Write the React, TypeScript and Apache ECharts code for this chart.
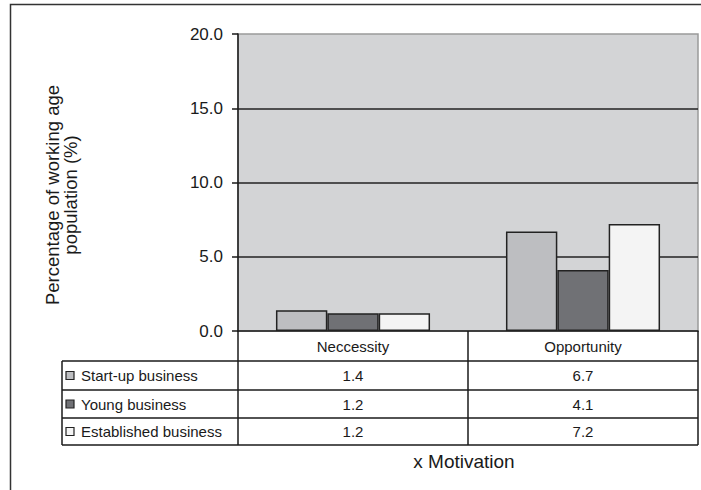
import React, { useEffect, useRef } from "react";
import * as echarts from "echarts";

const categories = ["Neccessity", "Opportunity"];
const seriesNames = ["Start-up business", "Young business", "Established business"];
const startUpValues = [1.4, 6.7];
const youngValues = [1.2, 4.1];
const establishedValues = [1.2, 7.2];
const seriesValues = [startUpValues, youngValues, establishedValues];
const seriesColors = ["#bdbec1", "#707175", "#f4f4f4"];
const yMin = 0;
const yMax = 20;
const yInterval = 5;
const yAxisTitleLines = ["Percentage of working age", "population (%)"];
const xAxisTitle = "x Motivation";

const FONT = "'Liberation Sans', Arial, Helvetica, sans-serif";
const INK = "#1a1a1a";

export default function App() {
  const ref = useRef<HTMLDivElement>(null);

  useEffect(() => {
    if (!ref.current) return;
    const chart = echarts.init(ref.current, null, { renderer: "svg" });

    const gridLeft = 238;
    const gridRight = 698;
    const gridTop = 34;
    const gridBottom = 331;
    const rowLines = [361, 390, 418, 445];
    const tableLeft = 62;

    const option: any = {
      animation: false,
      backgroundColor: "#ffffff",
      textStyle: { fontFamily: FONT },
      grid: {
        left: gridLeft,
        right: 701 - gridRight,
        top: gridTop,
        bottom: 490 - gridBottom,
        show: true,
        backgroundColor: "#d3d4d6",
        borderColor: "#9a9a9a",
        borderWidth: 1.5,
        containLabel: false,
      },
      xAxis: {
        type: "category",
        data: categories,
        boundaryGap: true,
        axisLine: { show: true, lineStyle: { color: INK, width: 1.5 } },
        axisTick: {
          show: true,
          inside: false,
          length: rowLines[rowLines.length - 1] - gridBottom,
          interval: 0,
          lineStyle: { color: INK, width: 1.5 },
        },
        axisLabel: {
          show: true,
          interval: 0,
          margin: 15,
          verticalAlign: "middle",
          fontSize: 15,
          color: INK,
          fontFamily: FONT,
        },
        splitLine: { show: false },
      },
      yAxis: {
        type: "value",
        min: yMin,
        max: yMax,
        interval: yInterval,
        axisLine: { show: true, lineStyle: { color: INK, width: 1.5 } },
        axisTick: { show: true, inside: false, length: 6, lineStyle: { color: INK, width: 1.5 } },
        axisLabel: {
          margin: 15,
          fontSize: 17,
          color: INK,
          fontFamily: FONT,
          formatter: (v: number) => v.toFixed(1),
        },
        splitLine: {
          show: true,
          showMinLine: false,
          showMaxLine: false,
          lineStyle: { color: "#222222", width: 1.5 },
        },
      },
      series: seriesNames.map((name, i) => ({
        name,
        type: "bar",
        data: seriesValues[i],
        barGap: "0%",
        barCategoryGap: "33%",
        itemStyle: { color: seriesColors[i], borderColor: "#222222", borderWidth: 1.5 },
      })),
    };

    chart.setOption(option);

    const colX = categories.map((c) => chart.convertToPixel({ xAxisIndex: 0 }, c) as number);

    const elements: any[] = [];

    // outer frame
    elements.push({
      type: "polyline",
      shape: { points: [[10.5, 490], [10.5, 4.5], [701, 4.5]] },
      style: { stroke: "#333333", lineWidth: 1.5, fill: null },
      z: 10,
    });

    // table horizontal lines
    rowLines.forEach((y) => {
      elements.push({
        type: "line",
        shape: { x1: tableLeft, y1: y, x2: gridRight, y2: y },
        style: { stroke: INK, lineWidth: 1.5 },
        z: 10,
      });
    });
    // table left border
    elements.push({
      type: "line",
      shape: { x1: tableLeft, y1: rowLines[0], x2: tableLeft, y2: rowLines[rowLines.length - 1] },
      style: { stroke: INK, lineWidth: 1.5 },
      z: 10,
    });

    seriesNames.forEach((name, i) => {
      const yc = (rowLines[i] + rowLines[i + 1]) / 2;
      elements.push({
        type: "rect",
        shape: { x: tableLeft + 4, y: yc - 4, width: 8, height: 8 },
        style: { fill: seriesColors[i], stroke: "#222222", lineWidth: 1.2 },
        z: 11,
      });
      elements.push({
        type: "text",
        x: tableLeft + 19,
        y: yc,
        style: {
          text: name,
          fontSize: 15,
          fontFamily: FONT,
          fill: INK,
          align: "left",
          verticalAlign: "middle",
        },
        z: 11,
      });
      seriesValues[i].forEach((v, j) => {
        elements.push({
          type: "text",
          x: colX[j],
          y: yc,
          style: {
            text: v.toFixed(1),
            fontSize: 15,
            fontFamily: FONT,
            fill: INK,
            align: "center",
            verticalAlign: "middle",
          },
          z: 11,
        });
      });
    });

    // y axis title (two lines)
    yAxisTitleLines.forEach((line, i) => {
      elements.push({
        type: "text",
        x: 52 + i * 18,
        y: 195,
        rotation: Math.PI / 2,
        style: {
          text: line,
          fontSize: 18.5,
          fontFamily: FONT,
          fill: INK,
          align: "center",
          verticalAlign: "middle",
        },
        z: 11,
      });
    });

    // x axis title
    elements.push({
      type: "text",
      x: 464,
      y: 461,
      style: {
        text: xAxisTitle,
        fontSize: 19,
        fontFamily: FONT,
        fill: INK,
        align: "center",
        verticalAlign: "middle",
      },
      z: 11,
    });

    chart.setOption({ graphic: elements });

    return () => chart.dispose();
  }, []);

  return (
    <div
      ref={ref}
      style={{ position: "fixed", left: 0, top: 0, width: 701, height: 490 }}
    />
  );
}
